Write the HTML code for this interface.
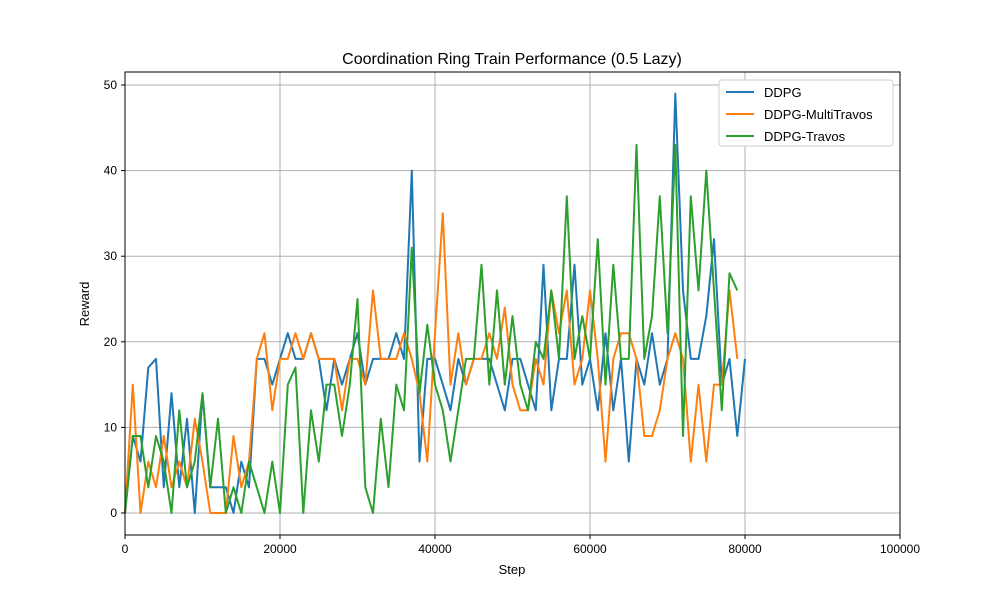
<!DOCTYPE html>
<html><head><meta charset="utf-8"><style>body{margin:0;background:#fff}svg{font-family:"Liberation Sans",sans-serif}</style></head>
<body>
<svg id="c" width="1000" height="600">
<rect width="1000" height="600" fill="#fff"/>
<text x="512" y="64" text-anchor="middle" font-size="16">Coordination Ring Train Performance (0.5 Lazy)</text>
<g id="grid"></g><g id="lines"></g><g id="axes"></g>
<text x="512" y="574" text-anchor="middle" font-size="13">Step</text>
<text transform="translate(89,304) rotate(-90)" text-anchor="middle" font-size="13">Reward</text>
<g id="legend"></g>
</svg>
<script>
const xTicks=[0,20000,40000,60000,80000,100000];
const yTicks=[0,10,20,30,40,50];
const seriesNames=["DDPG","DDPG-MultiTravos","DDPG-Travos"];
const colors=["#1f77b4","#ff7f0e","#2ca02c"];
const stepSize=1000;
const ddpg=[0,9,6,17,18,3,14,3,11,0,14,3,3,3,0,6,3,18,18,15,18,21,18,18,21,18,12,18,15,18,21,15,18,18,18,21,18,40,6,18,18,15,12,18,15,18,18,18,15,12,18,18,15,12,29,12,18,18,29,15,18,12,21,12,18,6,18,15,21,15,18,49,26,18,18,23,32,15,18,9,18];
const multi=[0,15,0,6,3,9,3,6,3,11,6,0,0,0,9,3,6,18,21,12,18,18,21,18,21,18,18,18,12,18,18,15,26,18,18,18,21,18,14,6,21,35,15,21,15,18,18,21,18,24,15,12,12,18,15,26,21,26,15,18,26,18,6,18,21,21,18,9,9,12,18,21,18,6,15,6,15,15,26,18];
const travos=[0,9,9,3,9,6,0,12,3,6,14,3,11,0,3,0,6,3,0,6,0,15,17,0,12,6,15,15,9,15,25,3,0,11,3,15,12,31,14,22,15,12,6,12,18,18,29,15,26,15,23,15,12,20,18,26,18,37,18,23,18,32,15,29,18,18,43,18,23,37,21,43,9,37,26,40,26,12,28,26];
const X0=125,X1=900,Y0=535,Y1=72;
const xs=v=>X0+(v-0)/100000*(X1-X0);
const ys=v=>513-(v)*(513-85)/50;
const NS="http://www.w3.org/2000/svg";
function mk(t,a,p){const e=document.createElementNS(NS,t);for(const k in a)e.setAttribute(k,a[k]);p.appendChild(e);return e;}
const grid=document.getElementById('grid'),axes=document.getElementById('axes'),lines=document.getElementById('lines'),leg=document.getElementById('legend');
xTicks.forEach(t=>{const x=xs(t);
const g=mk('line',{x1:x,x2:x,y1:Y1,y2:Y0,stroke:'#b0b0b0','stroke-width':1},grid);

mk('line',{x1:x,x2:x,y1:Y0,y2:Y0+4,stroke:'#000'},axes);
const tx=mk('text',{x:x,y:Y0+18,'text-anchor':'middle','font-size':12},axes);tx.textContent=t;
});
yTicks.forEach(t=>{const y=ys(t);
const g=mk('line',{x1:X0,x2:X1,y1:y,y2:y,stroke:'#b0b0b0','stroke-width':1},grid);

mk('line',{x1:X0-4,x2:X0,y1:y,y2:y,stroke:'#000'},axes);
const tx=mk('text',{x:X0-8,y:y+4,'text-anchor':'end','font-size':12},axes);tx.textContent=t;
});
const fr=mk('rect',{x:X0,y:Y1,width:X1-X0,height:Y0-Y1,fill:'none',stroke:'#000','stroke-width':1},axes);

[ddpg,multi,travos].forEach((s,i)=>{const pts=s.map((v,j)=>xs(j*stepSize).toFixed(1)+','+ys(v).toFixed(1)).join(' ');
const p=mk('polyline',{points:pts,fill:'none',stroke:colors[i],'stroke-width':2,'stroke-linejoin':'round'},lines);
});
const lb=mk('rect',{x:719,y:80,width:174,height:66,fill:'#fff',stroke:'#ccc',rx:3},leg);

seriesNames.forEach((n,i)=>{const y=92+i*22;
mk('line',{x1:726,x2:754,y1:y,y2:y,stroke:colors[i],'stroke-width':2},leg);
const t=mk('text',{x:764,y:y+5,'font-size':13},leg);t.textContent=n;
});
</script>
</body></html>
